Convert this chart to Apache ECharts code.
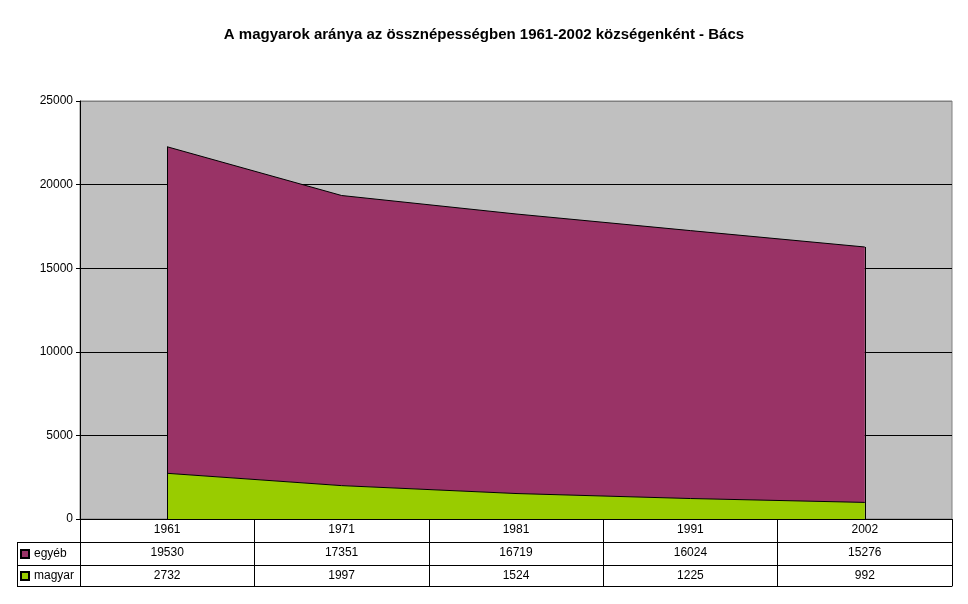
<!DOCTYPE html>
<html><head><meta charset="utf-8">
<script src="https://cdn.jsdelivr.net/npm/echarts@6/dist/echarts.min.js"></script>
<style>html,body{margin:0;padding:0;background:#fff}#c{width:968px;height:604px}</style>
</head><body><div id="c"></div>
<script>
const years = ['1961','1971','1981','1991','2002'];
const egyeb = [19530, 17351, 16719, 16024, 15276];
const magyar = [2732, 1997, 1524, 1225, 992];
const yTicks = {min: 0, max: 25000, interval: 5000};

const FONT = 'Arial, "Liberation Sans", sans-serif';
const chart = echarts.init(document.getElementById('c'));

function tableAxis(data, offset, tickLen, showLabel) {
  return {
    type: 'category', position: 'bottom', offset: offset, data: data,
    boundaryGap: true,
    axisLine: {show: true, lineStyle: {color: '#000', width: 1}},
    axisTick: {show: tickLen > 0, interval: 0, length: tickLen, inside: false, alignWithLabel: false, lineStyle: {color: '#000', width: 1}},
    axisLabel: {show: showLabel, interval: 0, margin: 5, color: '#000', fontFamily: FONT, fontSize: 12, verticalAlign: 'top'},
    splitLine: {show: false}
  };
}

const last = years.length - 1;
const edgeLines = [0, last].map(i => [
  {coord: [years[i], 0]},
  {coord: [years[i], egyeb[i] + magyar[i]]}
]);

chart.setOption({
  animation: false,
  title: {
    text: 'A magyarok aránya az össznépességben 1961-2002 községenként - Bács',
    left: 'center', top: 22,
    textStyle: {fontFamily: FONT, fontSize: 15, fontWeight: 'bold', color: '#000'}
  },
  legend: [
    {data: ['egyéb'], left: 20, top: 548, itemWidth: 8, itemHeight: 8, itemGap: 0, padding: 0,
     icon: 'rect', selectedMode: false, textStyle: {fontFamily: FONT, fontSize: 12, color: '#000'}},
    {data: ['magyar'], left: 20, top: 570, itemWidth: 8, itemHeight: 8, itemGap: 0, padding: 0,
     icon: 'rect', selectedMode: false, textStyle: {fontFamily: FONT, fontSize: 12, color: '#000'}}
  ],
  grid: {left: 80, right: 16, top: 101, bottom: 85, show: true, backgroundColor: '#C0C0C0', borderColor: '#808080', borderWidth: 1},
  xAxis: [
    tableAxis(years, 0, 23, true),
    tableAxis(egyeb.map(String), 23, 23, true),
    tableAxis(magyar.map(String), 46, 21, true),
    tableAxis(years, 67, 0, false)
  ],
  yAxis: {
    type: 'value', min: yTicks.min, max: yTicks.max, interval: yTicks.interval,
    axisLine: {show: true, lineStyle: {color: '#000', width: 1}},
    axisTick: {show: true, length: 4, lineStyle: {color: '#000'}},
    axisLabel: {color: '#000', fontFamily: FONT, fontSize: 12, margin: 7, formatter: v => String(v)},
    splitLine: {show: true, lineStyle: {color: ['#000', '#000', '#000', '#000', '#000', '#808080'], width: 1}}
  },
  series: [
    {name: 'magyar', type: 'line', stack: 'total', data: magyar, xAxisIndex: 0, symbol: 'none',
     itemStyle: {color: '#99CC00', borderColor: '#000', borderWidth: 1},
     lineStyle: {color: '#000', width: 1}, areaStyle: {color: '#99CC00', opacity: 1}},
    {name: 'egyéb', type: 'line', stack: 'total', data: egyeb, xAxisIndex: 0, symbol: 'none',
     itemStyle: {color: '#993366', borderColor: '#000', borderWidth: 1},
     lineStyle: {color: '#000', width: 1}, areaStyle: {color: '#993366', opacity: 1},
     markLine: {silent: true, symbol: 'none', label: {show: false}, animation: false,
       lineStyle: {color: '#000', width: 1, type: 'solid'}, data: edgeLines}}
  ],
  graphic: [
    {type: 'line', shape: {x1: 17, y1: 542.5, x2: 80, y2: 542.5}, style: {stroke: '#000', lineWidth: 1}},
    {type: 'line', shape: {x1: 17, y1: 565.5, x2: 80, y2: 565.5}, style: {stroke: '#000', lineWidth: 1}},
    {type: 'line', shape: {x1: 17, y1: 586.5, x2: 80, y2: 586.5}, style: {stroke: '#000', lineWidth: 1}},
    {type: 'line', shape: {x1: 17.5, y1: 542.5, x2: 17.5, y2: 586.5}, style: {stroke: '#000', lineWidth: 1}}
  ]
});
</script></body></html>
